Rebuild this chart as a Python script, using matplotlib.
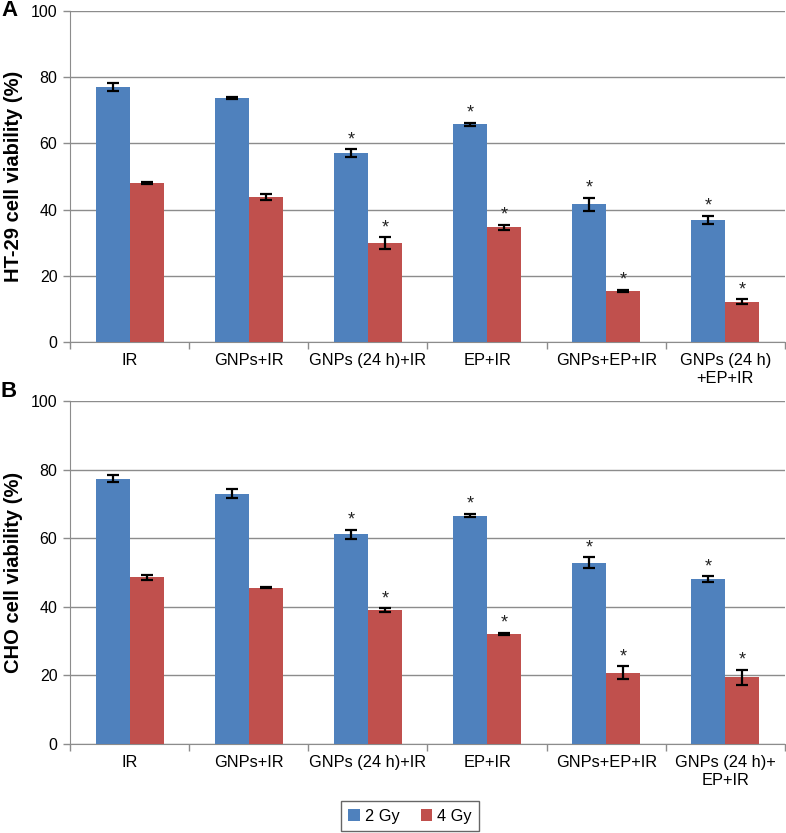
import matplotlib
matplotlib.use("Agg")
import matplotlib.pyplot as plt
import numpy as np

plt.rcParams['font.family'] = ['Liberation Sans', 'DejaVu Sans']

series = ["2 Gy", "4 Gy"]
labels_a = ["IR", "GNPs+IR", "GNPs (24 h)+IR", "EP+IR", "GNPs+EP+IR", "GNPs (24 h)\n+EP+IR"]
labels_b = ["IR", "GNPs+IR", "GNPs (24 h)+IR", "EP+IR", "GNPs+EP+IR", "GNPs (24 h)+\nEP+IR"]

a_2gy = [76.9, 73.7, 57.0, 65.8, 41.6, 36.8]
a_2gy_err = [1.2, 0.4, 1.2, 0.5, 2.0, 1.3]
a_4gy = [48.1, 43.8, 29.8, 34.6, 15.5, 12.2]
a_4gy_err = [0.3, 0.8, 1.8, 0.8, 0.3, 0.7]
a_sig_2gy = [False, False, True, True, True, True]
a_sig_4gy = [False, False, True, True, True, True]

b_2gy = [77.4, 73.0, 61.1, 66.6, 52.9, 48.1]
b_2gy_err = [0.9, 1.2, 1.3, 0.5, 1.6, 0.8]
b_4gy = [48.6, 45.6, 39.0, 32.1, 20.8, 19.4]
b_4gy_err = [0.8, 0.2, 0.6, 0.4, 1.9, 2.3]
b_sig_2gy = [False, False, True, True, True, True]
b_sig_4gy = [False, False, True, True, True, True]

blue = "#4f81bd"
red = "#c0504d"

fig = plt.figure(figsize=(7.86, 8.33), dpi=100)
W, H = 786, 833
def ax_rect(l, r, t, b):
    return [l / W, 1 - b / H, (r - l) / W, (b - t) / H]

axA = fig.add_axes(ax_rect(70, 785, 11, 342))
axB = fig.add_axes(ax_rect(70, 785, 401, 744))

bw = 0.286

def draw(ax, labels, v1, e1, v2, e2, s1, s2, ylabel):
    x = np.arange(len(labels))
    ax.bar(x - bw / 2, v1, bw, color=blue, zorder=3, label=series[0])
    ax.bar(x + bw / 2, v2, bw, color=red, zorder=3, label=series[1])
    ekw = dict(fmt='none', ecolor='black', elinewidth=1.6, capsize=4.5, capthick=1.6, zorder=4)
    ax.errorbar(x - bw / 2, v1, yerr=e1, **ekw)
    ax.errorbar(x + bw / 2, v2, yerr=e2, **ekw)
    for i in range(len(labels)):
        if s1[i]:
            ax.text(x[i] - bw / 2, v1[i] + e1[i] + 0.3, "*", ha='center', va='bottom',
                    fontsize=13, color='#222222', zorder=5)
        if s2[i]:
            ax.text(x[i] + bw / 2, v2[i] + e2[i] + 0.3, "*", ha='center', va='bottom',
                    fontsize=13, color='#222222', zorder=5)
    ax.set_xlim(-0.5, len(labels) - 0.5)
    ax.set_ylim(0, 100)
    ax.set_yticks([0, 20, 40, 60, 80, 100])
    ax.yaxis.grid(True, color='#8c8c8c', linewidth=1.0, zorder=0)
    ax.set_axisbelow(True)
    ax.set_xticks(x)
    ax.set_xticklabels(labels, fontsize=11.8)
    ax.set_xticks(np.arange(len(labels) + 1) - 0.5, minor=True)
    ax.tick_params(axis='x', which='major', length=0, pad=8)
    ax.tick_params(axis='x', which='minor', length=5, color='#8c8c8c', width=1)
    ax.tick_params(axis='y', length=5, color='#8c8c8c', width=1, labelsize=11.5, pad=4)
    for sp in ['top', 'right']:
        ax.spines[sp].set_visible(False)
    ax.spines['left'].set_color('#8c8c8c')
    ax.spines['bottom'].set_color('#8c8c8c')
    ax.set_ylabel(ylabel, fontsize=14.5, fontweight='bold', labelpad=6)

draw(axA, labels_a, a_2gy, a_2gy_err, a_4gy, a_4gy_err, a_sig_2gy, a_sig_4gy, "HT-29 cell viability (%)")
draw(axB, labels_b, b_2gy, b_2gy_err, b_4gy, b_4gy_err, b_sig_2gy, b_sig_4gy, "CHO cell viability (%)")

fig.text(1 / W, 1 - 11 / H, "A", fontsize=16, fontweight='bold', va='center', ha='left')
fig.text(1 / W, 1 - 391 / H, "B", fontsize=16, fontweight='bold', va='center', ha='left')

handles, lbls = axB.get_legend_handles_labels()
leg = fig.legend(handles, lbls, loc='center', bbox_to_anchor=(410 / W, 1 - 816 / H), ncol=2,
                 frameon=True, fancybox=False, edgecolor='#404040', fontsize=11.8,
                 handlelength=0.7, handleheight=0.7, handletextpad=0.3, columnspacing=1.3,
                 borderpad=0.45)
leg.get_frame().set_linewidth(1.0)

fig.savefig("out.png", dpi=100)
